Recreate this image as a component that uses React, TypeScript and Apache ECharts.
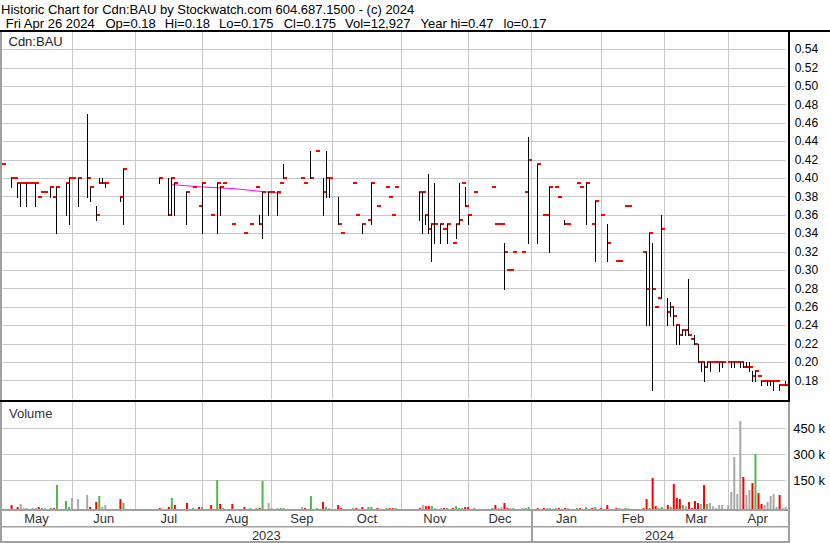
import React, { useEffect, useRef } from 'react';
import * as echarts from 'echarts';

// ---------- data ----------
const FIRST_DAY = '2023-05-01';
const LAST_DAY = '2024-04-26';
const MONTH_KEYS = ['2023-05', '2023-06', '2023-07', '2023-08', '2023-09', '2023-10', '2023-11', '2023-12', '2024-01', '2024-02', '2024-03', '2024-04'];
const MONTH_LABELS = ['May', 'Jun', 'Jul', 'Aug', 'Sep', 'Oct', 'Nov', 'Dec', 'Jan', 'Feb', 'Mar', 'Apr'];
const YEAR_KEYS = ['2023-05', '2024-01'];
const YEAR_LABELS = ['2023', '2024'];
const PRICE_MIN = 0.16;
const PRICE_MAX = 0.56;
const PRICE_STEP = 0.02;
const VOL_STEP = 150000;
const VOL_TOP = 600000;

// [date, high, low, close, volume]
const TRADES: [string, number, number, number, number][] = [
  ['2023-05-01', 0.415, 0.415, 0.415, 1000],
  ['2023-05-04', 0.40, 0.39, 0.40, 23000],
  ['2023-05-05', 0.40, 0.40, 0.40, 1000],
  ['2023-05-08', 0.395, 0.38, 0.395, 11500],
  ['2023-05-09', 0.395, 0.37, 0.395, 29000],
  ['2023-05-10', 0.395, 0.395, 0.395, 5500],
  ['2023-05-11', 0.395, 0.37, 0.395, 6000],
  ['2023-05-12', 0.395, 0.395, 0.395, 1000],
  ['2023-05-15', 0.395, 0.395, 0.395, 5500],
  ['2023-05-16', 0.395, 0.37, 0.395, 6000],
  ['2023-05-17', 0.38, 0.38, 0.38, 11500],
  ['2023-05-18', 0.385, 0.385, 0.385, 5500],
  ['2023-05-19', 0.385, 0.385, 0.385, 5000],
  ['2023-05-23', 0.39, 0.38, 0.39, 6000],
  ['2023-05-24', 0.38, 0.38, 0.38, 5500],
  ['2023-05-25', 0.39, 0.34, 0.39, 138500],
  ['2023-05-30', 0.395, 0.36, 0.395, 46000],
  ['2023-05-31', 0.40, 0.35, 0.40, 11500],
  ['2023-06-01', 0.40, 0.40, 0.40, 63500],
  ['2023-06-05', 0.40, 0.37, 0.40, 57500],
  ['2023-06-08', 0.47, 0.38, 0.40, 81000],
  ['2023-06-09', 0.39, 0.375, 0.39, 11500],
  ['2023-06-13', 0.37, 0.355, 0.36, 40500],
  ['2023-06-14', 0.40, 0.395, 0.395, 75000],
  ['2023-06-15', 0.40, 0.395, 0.395, 11500],
  ['2023-06-16', 0.395, 0.39, 0.395, 23000],
  ['2023-06-23', 0.38, 0.375, 0.38, 57500],
  ['2023-06-26', 0.41, 0.35, 0.41, 34500],
  ['2023-07-12', 0.40, 0.395, 0.40, 5500],
  ['2023-07-17', 0.40, 0.36, 0.36, 11500],
  ['2023-07-18', 0.40, 0.36, 0.40, 63500],
  ['2023-07-19', 0.395, 0.36, 0.395, 23000],
  ['2023-07-25', 0.385, 0.35, 0.385, 34500],
  ['2023-07-27', 0.39, 0.39, 0.39, 5500],
  ['2023-07-31', 0.37, 0.37, 0.37, 11500],
  ['2023-08-01', 0.395, 0.34, 0.395, 11500],
  ['2023-08-04', 0.36, 0.36, 0.36, 23000],
  ['2023-08-08', 0.395, 0.34, 0.395, 167000],
  ['2023-08-09', 0.39, 0.36, 0.39, 29000],
  ['2023-08-10', 0.395, 0.395, 0.395, 5500],
  ['2023-08-15', 0.35, 0.35, 0.35, 29000],
  ['2023-08-21', 0.34, 0.34, 0.34, 11500],
  ['2023-08-23', 0.35, 0.35, 0.35, 5500],
  ['2023-08-25', 0.39, 0.39, 0.39, 5500],
  ['2023-08-28', 0.36, 0.35, 0.35, 5500],
  ['2023-08-29', 0.385, 0.335, 0.385, 161500],
  ['2023-08-31', 0.385, 0.36, 0.385, 34500],
  ['2023-09-01', 0.385, 0.385, 0.385, 5500],
  ['2023-09-05', 0.385, 0.36, 0.385, 5500],
  ['2023-09-06', 0.395, 0.395, 0.395, 5500],
  ['2023-09-07', 0.415, 0.40, 0.40, 5500],
  ['2023-09-15', 0.40, 0.40, 0.40, 11500],
  ['2023-09-18', 0.395, 0.395, 0.395, 5500],
  ['2023-09-20', 0.43, 0.40, 0.40, 75000],
  ['2023-09-22', 0.43, 0.43, 0.43, 5500],
  ['2023-09-26', 0.40, 0.36, 0.385, 40500],
  ['2023-09-27', 0.43, 0.38, 0.40, 11500],
  ['2023-09-28', 0.40, 0.38, 0.40, 5500],
  ['2023-10-03', 0.38, 0.35, 0.35, 23000],
  ['2023-10-04', 0.34, 0.34, 0.34, 5500],
  ['2023-10-10', 0.395, 0.395, 0.395, 5500],
  ['2023-10-11', 0.36, 0.36, 0.36, 5500],
  ['2023-10-13', 0.35, 0.34, 0.35, 11500],
  ['2023-10-17', 0.355, 0.355, 0.355, 11500],
  ['2023-10-18', 0.395, 0.35, 0.395, 11500],
  ['2023-10-20', 0.37, 0.37, 0.37, 5500],
  ['2023-10-25', 0.39, 0.39, 0.39, 5500],
  ['2023-10-26', 0.38, 0.38, 0.38, 5500],
  ['2023-10-27', 0.36, 0.36, 0.36, 5500],
  ['2023-10-30', 0.39, 0.39, 0.39, 5500],
  ['2023-11-09', 0.385, 0.355, 0.385, 5500],
  ['2023-11-10', 0.385, 0.34, 0.385, 23000],
  ['2023-11-13', 0.36, 0.35, 0.36, 17000],
  ['2023-11-14', 0.405, 0.34, 0.345, 17500],
  ['2023-11-15', 0.35, 0.31, 0.35, 17000],
  ['2023-11-16', 0.395, 0.33, 0.35, 5500],
  ['2023-11-20', 0.35, 0.33, 0.35, 5500],
  ['2023-11-21', 0.345, 0.345, 0.345, 5500],
  ['2023-11-22', 0.35, 0.33, 0.35, 5500],
  ['2023-11-24', 0.33, 0.33, 0.33, 5500],
  ['2023-11-27', 0.35, 0.335, 0.35, 17000],
  ['2023-11-28', 0.395, 0.35, 0.355, 5500],
  ['2023-11-29', 0.395, 0.395, 0.395, 5500],
  ['2023-11-30', 0.39, 0.37, 0.37, 11500],
  ['2023-12-01', 0.36, 0.35, 0.36, 11500],
  ['2023-12-05', 0.385, 0.385, 0.385, 5500],
  ['2023-12-13', 0.39, 0.39, 0.39, 5500],
  ['2023-12-14', 0.35, 0.35, 0.35, 23000],
  ['2023-12-15', 0.35, 0.35, 0.35, 5500],
  ['2023-12-18', 0.35, 0.35, 0.35, 11500],
  ['2023-12-19', 0.33, 0.28, 0.32, 34500],
  ['2023-12-20', 0.30, 0.30, 0.30, 5500],
  ['2023-12-21', 0.30, 0.30, 0.30, 5500],
  ['2023-12-22', 0.32, 0.32, 0.32, 5500],
  ['2023-12-27', 0.32, 0.32, 0.32, 5500],
  ['2023-12-28', 0.385, 0.385, 0.385, 5500],
  ['2023-12-29', 0.445, 0.33, 0.42, 11500],
  ['2024-01-03', 0.415, 0.33, 0.415, 5500],
  ['2024-01-05', 0.36, 0.36, 0.36, 5500],
  ['2024-01-08', 0.36, 0.36, 0.36, 5500],
  ['2024-01-09', 0.39, 0.32, 0.39, 5500],
  ['2024-01-11', 0.39, 0.39, 0.39, 5500],
  ['2024-01-12', 0.38, 0.38, 0.38, 5500],
  ['2024-01-16', 0.355, 0.35, 0.35, 5500],
  ['2024-01-17', 0.35, 0.35, 0.35, 5500],
  ['2024-01-22', 0.395, 0.395, 0.395, 5500],
  ['2024-01-23', 0.39, 0.39, 0.39, 5500],
  ['2024-01-25', 0.395, 0.35, 0.395, 11500],
  ['2024-01-29', 0.35, 0.35, 0.35, 5500],
  ['2024-01-30', 0.375, 0.31, 0.375, 11500],
  ['2024-02-01', 0.36, 0.36, 0.36, 5500],
  ['2024-02-05', 0.35, 0.31, 0.33, 23000],
  ['2024-02-08', 0.31, 0.31, 0.31, 5500],
  ['2024-02-09', 0.31, 0.31, 0.31, 5500],
  ['2024-02-13', 0.37, 0.37, 0.37, 5500],
  ['2024-02-14', 0.37, 0.37, 0.37, 5500],
  ['2024-02-21', 0.32, 0.32, 0.32, 5500],
  ['2024-02-22', 0.32, 0.24, 0.28, 57500],
  ['2024-02-23', 0.34, 0.24, 0.34, 5500],
  ['2024-02-26', 0.33, 0.17, 0.28, 179000],
  ['2024-02-27', 0.26, 0.26, 0.26, 17000],
  ['2024-02-28', 0.27, 0.27, 0.27, 5500],
  ['2024-02-29', 0.36, 0.27, 0.345, 11500],
  ['2024-03-04', 0.27, 0.24, 0.255, 23000],
  ['2024-03-05', 0.265, 0.25, 0.26, 11500],
  ['2024-03-06', 0.26, 0.24, 0.25, 144000],
  ['2024-03-07', 0.24, 0.22, 0.24, 63500],
  ['2024-03-08', 0.24, 0.22, 0.23, 57500],
  ['2024-03-11', 0.235, 0.23, 0.235, 23000],
  ['2024-03-12', 0.235, 0.23, 0.235, 17000],
  ['2024-03-13', 0.29, 0.23, 0.23, 40500],
  ['2024-03-14', 0.225, 0.225, 0.225, 5500],
  ['2024-03-15', 0.23, 0.22, 0.22, 46000],
  ['2024-03-18', 0.22, 0.20, 0.20, 34500],
  ['2024-03-19', 0.20, 0.19, 0.20, 29000],
  ['2024-03-20', 0.20, 0.18, 0.195, 138500],
  ['2024-03-21', 0.20, 0.195, 0.20, 29000],
  ['2024-03-22', 0.20, 0.19, 0.20, 34500],
  ['2024-03-25', 0.20, 0.20, 0.20, 17000],
  ['2024-03-26', 0.20, 0.20, 0.20, 5500],
  ['2024-03-27', 0.20, 0.19, 0.20, 23000],
  ['2024-03-28', 0.20, 0.195, 0.20, 23000],
  ['2024-04-01', 0.20, 0.20, 0.20, 23000],
  ['2024-04-02', 0.20, 0.195, 0.20, 98000],
  ['2024-04-03', 0.20, 0.195, 0.20, 300000],
  ['2024-04-04', 0.20, 0.20, 0.20, 86500],
  ['2024-04-05', 0.20, 0.195, 0.20, 508000],
  ['2024-04-08', 0.20, 0.195, 0.195, 184500],
  ['2024-04-09', 0.20, 0.195, 0.195, 81000],
  ['2024-04-10', 0.20, 0.19, 0.195, 109500],
  ['2024-04-11', 0.19, 0.18, 0.185, 150000],
  ['2024-04-12', 0.19, 0.18, 0.19, 317000],
  ['2024-04-15', 0.185, 0.185, 0.185, 92000],
  ['2024-04-16', 0.18, 0.175, 0.18, 29000],
  ['2024-04-17', 0.18, 0.18, 0.18, 23000],
  ['2024-04-18', 0.18, 0.175, 0.18, 40500],
  ['2024-04-19', 0.18, 0.175, 0.18, 75000],
  ['2024-04-22', 0.18, 0.17, 0.18, 86500],
  ['2024-04-23', 0.18, 0.18, 0.18, 11500],
  ['2024-04-24', 0.175, 0.17, 0.175, 81000],
  ['2024-04-25', 0.175, 0.175, 0.175, 5500],
  ['2024-04-26', 0.18, 0.175, 0.175, 12927],
];

// magenta average line
const MOVING_AVG: [string, number][] = [
  ['2023-07-18', 0.393],
  ['2023-07-26', 0.3915],
  ['2023-08-01', 0.3905],
  ['2023-08-09', 0.3895],
  ['2023-08-16', 0.3885],
  ['2023-08-21', 0.3875],
  ['2023-08-24', 0.3865],
  ['2023-08-29', 0.3855],
  ['2023-09-06', 0.3835],
];

const HEADER_1 = 'Historic Chart for Cdn:BAU by Stockwatch.com 604.687.1500 - (c) 2024';
const HEADER_2 = ['Fri Apr 26 2024', 'Op=0.18', 'Hi=0.18', 'Lo=0.175', 'Cl=0.175', 'Vol=12,927', 'Year hi=0.47', 'lo=0.17'];
const SYMBOL_LABEL = 'Cdn:BAU';
const VOLUME_LABEL = 'Volume';

// ---------- helpers ----------
function weekdays(start: string, end: string): string[] {
  const out: string[] = [];
  const d = new Date(start + 'T00:00:00Z');
  const e = new Date(end + 'T00:00:00Z');
  while (d.getTime() <= e.getTime()) {
    const wd = d.getUTCDay();
    if (wd !== 0 && wd !== 6) out.push(d.toISOString().slice(0, 10));
    d.setUTCDate(d.getUTCDate() + 1);
  }
  return out;
}

const FONT = '"Liberation Sans", Arial, Helvetica, sans-serif';
const RED = '#ff0000';
const GREEN = '#4cb84c';
const GREY_BAR = '#a8a8a8';
const GRID_COLOR = '#c8c8c8';
const BORDER_GREY = '#a0a0a0';

export default function App() {
  const ref = useRef<HTMLDivElement>(null);

  useEffect(() => {
    if (!ref.current) return;
    const chart = echarts.init(ref.current, undefined, { renderer: 'svg' });

    const days = weekdays(FIRST_DAY, LAST_DAY);
    const n = days.length;
    const idxOf = (key: string) => {
      const first = key + '-01';
      let i = days.findIndex((d) => d >= first);
      if (days[i] !== first) i -= 1;
      return i;
    };
    const bounds = MONTH_KEYS.map(idxOf);
    const gridSet = new Set(bounds.slice(1));

    const monthData = MONTH_LABELS.map((_, m) => {
      const s = m === 0 ? -0.5 : bounds[m];
      const e = m === MONTH_LABELS.length - 1 ? n - 0.5 : bounds[m + 1];
      return [(s + e) / 2, 0];
    });
    const yearStarts = YEAR_KEYS.map(idxOf);
    const yearData = YEAR_LABELS.map((_, y) => {
      const s = y === 0 ? -0.5 : yearStarts[y];
      const e = y === YEAR_LABELS.length - 1 ? n - 0.5 : yearStarts[y + 1];
      return [(s + e) / 2, 0, s];
    });

    const byDate = new Map<string, { close: number; vol: number; color: string }>();
    TRADES.forEach((r, i) => {
      const prev = i > 0 ? TRADES[i - 1][3] : r[3];
      const color = r[3] > prev + 1e-9 ? GREEN : r[3] < prev - 1e-9 ? RED : GREY_BAR;
      byDate.set(r[0], { close: r[3], vol: r[4], color });
    });
    const volData = days.map((d) => {
      const t = byDate.get(d);
      return t ? { value: t.vol, itemStyle: { color: t.color } } : '-';
    });

    const LEFT = 2.5;
    const WIDTH = 783.2;
    const VOL_BAR_H = 107;
    const VOL_LABEL_H = 104;

    const catAxis = (gridIndex: number, split: boolean) => ({
      type: 'category',
      gridIndex,
      data: days,
      boundaryGap: false,
      axisLine: { show: false },
      axisTick: { show: false },
      axisLabel: { show: false },
      splitLine: {
        show: split,
        interval: (index: number) => gridSet.has(index),
        lineStyle: { color: GRID_COLOR, width: 1 },
      },
    });

    const textEl = (text: string, x: number, y: number, fill = '#000', size = 13) => ({
      type: 'text',
      x,
      y,
      silent: true,
      z: 110,
      style: { text, font: `${size}px ${FONT}`, fill, verticalAlign: 'middle', textVerticalAlign: 'middle', align: 'left' },
    });

    const headerX = [5.8, 105.5, 164.8, 219, 283.7, 345, 420.5, 503.5];

    const option: any = {
      animation: false,
      backgroundColor: '#ffffff',
      textStyle: { fontFamily: FONT },
      grid: [
        { left: LEFT, top: 31, width: WIDTH, height: 368 },
        { left: LEFT, top: 402, width: WIDTH, height: VOL_BAR_H },
        { left: LEFT, top: 402, width: WIDTH, height: VOL_LABEL_H },
      ],
      xAxis: [
        catAxis(0, true),
        catAxis(1, true),
        { ...catAxis(2, false), show: false },
        { type: 'value', gridIndex: 1, min: 0, max: n - 1, show: false },
      ],
      yAxis: [
        {
          type: 'value',
          gridIndex: 0,
          position: 'right',
          min: PRICE_MIN,
          max: PRICE_MAX,
          interval: PRICE_STEP,
          axisLine: { show: false },
          axisTick: { show: false },
          axisLabel: {
            margin: 9,
            fontSize: 12,
            fontFamily: FONT,
            color: '#000',
            showMinLabel: false,
            showMaxLabel: false,
            formatter: (v: number) => v.toFixed(2),
          },
          splitLine: { show: true, showMinLine: false, showMaxLine: false, lineStyle: { color: GRID_COLOR, width: 1 } },
        },
        {
          type: 'value',
          gridIndex: 1,
          min: 0,
          max: (VOL_TOP * VOL_BAR_H) / VOL_LABEL_H,
          show: false,
          splitLine: { show: false },
        },
        {
          type: 'value',
          gridIndex: 2,
          position: 'right',
          min: 0,
          max: VOL_TOP,
          interval: VOL_STEP,
          axisLine: { show: false },
          axisTick: { show: false },
          axisLabel: {
            margin: 7.5,
            fontSize: 13,
            fontFamily: FONT,
            color: '#000',
            showMinLabel: false,
            showMaxLabel: false,
            formatter: (v: number) => `${v / 1000} k`,
          },
          splitLine: { show: true, showMinLine: false, showMaxLine: false, lineStyle: { color: GRID_COLOR, width: 1 } },
        },
      ],
      series: [
        {
          type: 'line',
          xAxisIndex: 0,
          yAxisIndex: 0,
          data: MOVING_AVG,
          symbol: 'none',
          lineStyle: { color: '#ff00ff', width: 1 },
          z: 2,
          silent: true,
        },
        {
          type: 'custom',
          xAxisIndex: 0,
          yAxisIndex: 0,
          z: 3,
          silent: true,
          clip: false,
          data: TRADES.map((r) => [r[0], r[1], r[2], r[3]]),
          encode: { x: 0, y: [1, 2, 3] },
          renderItem: (params: any, api: any) => {
            const k = api.value(0);
            const hi = api.coord([k, api.value(1)]);
            const lo = api.coord([k, api.value(2)]);
            const cl = api.coord([k, api.value(3)]);
            const x = Math.floor(hi[0]);
            const children: any[] = [
              { type: 'rect', shape: { x, y: Math.round(cl[1]) - 1, width: 4, height: 2 }, style: { fill: RED } },
            ];
            const yh = Math.round(hi[1]);
            const yl = Math.round(lo[1]);
            if (yl - yh >= 1) {
              children.push({ type: 'rect', shape: { x, y: yh, width: 1, height: yl - yh + 1 }, style: { fill: '#000' } });
            }
            return { type: 'group', children };
          },
        },
        {
          type: 'bar',
          xAxisIndex: 1,
          yAxisIndex: 1,
          barWidth: 2,
          data: volData,
          silent: true,
        },
        {
          type: 'custom',
          xAxisIndex: 3,
          yAxisIndex: 1,
          clip: false,
          silent: true,
          data: monthData,
          renderItem: (params: any, api: any) => {
            const p = api.coord([api.value(0), 0]);
            return {
              type: 'text',
              x: p[0],
              y: 518,
              style: { text: MONTH_LABELS[params.dataIndex], font: `13px ${FONT}`, fill: '#333', align: 'center', verticalAlign: 'middle', textAlign: 'center', textVerticalAlign: 'middle' },
            };
          },
        },
        {
          type: 'custom',
          xAxisIndex: 3,
          yAxisIndex: 1,
          clip: false,
          silent: true,
          data: yearData,
          renderItem: (params: any, api: any) => {
            const p = api.coord([api.value(0), 0]);
            const s = api.coord([api.value(2), 0]);
            const children: any[] = [
              {
                type: 'text',
                x: p[0],
                y: 535,
                style: { text: YEAR_LABELS[params.dataIndex], font: `13px ${FONT}`, fill: '#333', align: 'center', verticalAlign: 'middle', textAlign: 'center', textVerticalAlign: 'middle' },
              },
            ];
            if (params.dataIndex > 0) {
              children.push({ type: 'rect', shape: { x: Math.floor(s[0]), y: 510, width: 2, height: 32 }, style: { fill: BORDER_GREY } });
            }
            return { type: 'group', children };
          },
        },
      ],
      graphic: [
        { type: 'rect', z: 100, silent: true, shape: { x: 0, y: 30, width: 830, height: 2 }, style: { fill: '#000' } },
        { type: 'rect', z: 100, silent: true, shape: { x: 0, y: 32, width: 2, height: 511 }, style: { fill: BORDER_GREY } },
        { type: 'rect', z: 100, silent: true, shape: { x: 788, y: 30, width: 2, height: 372 }, style: { fill: '#000' } },
        { type: 'rect', z: 100, silent: true, shape: { x: 0, y: 400, width: 790, height: 2 }, style: { fill: '#000' } },
        { type: 'rect', z: 100, silent: true, shape: { x: 788, y: 402, width: 2, height: 141 }, style: { fill: BORDER_GREY } },
        { type: 'rect', z: 100, silent: true, shape: { x: 0, y: 509, width: 790, height: 2 }, style: { fill: BORDER_GREY } },
        { type: 'rect', z: 100, silent: true, shape: { x: 0, y: 526, width: 790, height: 1.5 }, style: { fill: BORDER_GREY } },
        { type: 'rect', z: 100, silent: true, shape: { x: 0, y: 541, width: 790, height: 2 }, style: { fill: BORDER_GREY } },
        textEl(HEADER_1, 1, 9),
        ...HEADER_2.map((t, i) => textEl(t, headerX[i], 23.3)),
        textEl(SYMBOL_LABEL, 8.5, 41.3, '#222'),
        textEl(VOLUME_LABEL, 9, 413.5, '#333'),
      ],
    };

    chart.setOption(option);
    return () => chart.dispose();
  }, []);

  return <div ref={ref} style={{ position: 'fixed', left: 0, top: 0, width: 830, height: 543 }} />;
}
